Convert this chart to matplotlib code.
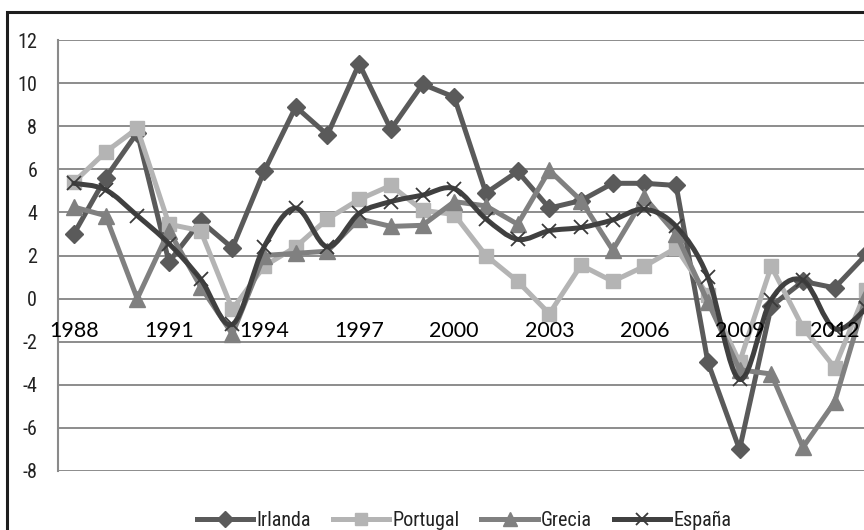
import numpy as np
import matplotlib
matplotlib.use('Agg')
import matplotlib.pyplot as plt
from matplotlib.path import Path
from matplotlib.patches import PathPatch, Rectangle
from matplotlib.lines import Line2D
from matplotlib import font_manager as fm

years = list(range(1988, 2014))
irlanda = [3.0, 5.6, 7.7, 1.7, 3.6, 2.35, 5.9, 8.9, 7.6, 10.9, 7.85, 9.95, 9.35, 4.9,
           5.9, 4.2, 4.55, 5.35, 5.35, 5.25, -2.95, -7.0, -0.35, 0.8, 0.5, 2.05]
portugal = [5.4, 6.8, 7.9, 3.45, 3.15, -0.5, 1.5, 2.4, 3.7, 4.6, 5.25, 4.1, 3.9, 2.0,
            0.8, -0.7, 1.55, 0.8, 1.5, 2.35, 0.15, -2.95, 1.5, -1.35, -3.2, 0.4]
grecia = [4.25, 3.85, 0.0, 3.15, 0.55, -1.65, 2.0, 2.1, 2.2, 3.7, 3.35, 3.4, 4.5, 4.3,
          3.45, 5.95, 4.55, 2.25, 4.7, 3.0, -0.15, -3.3, -3.5, -6.9, -4.8, 0.15]
espana = [5.35, 5.05, 3.85, 2.55, 0.9, -1.2, 2.4, 4.2, 2.4, 3.95, 4.5, 4.8, 5.1, 3.7,
          2.75, 3.15, 3.3, 3.65, 4.15, 3.35, 1.0, -3.75, -0.05, 0.85, -1.4, -0.45]
series_names = ['Irlanda', 'Portugal', 'Grecia', 'España']
y_ticks = list(range(-8, 13, 2))
x_label_step = 3

available = {f.name for f in fm.fontManager.ttflist}
def pick(cands, default='DejaVu Sans'):
    for c in cands:
        if c in available:
            return c
    return default

cond_font = pick(['Liberation Sans Narrow', 'Roboto Condensed', 'Open Sans Condensed',
                  'Noto Sans Condensed', 'Liberation Sans'])
year_font = pick(['Lato', 'Open Sans', 'Liberation Sans'])

W, H = 864, 530
fig = plt.figure(figsize=(W / 100, H / 100), dpi=100)
fig.patch.set_facecolor('white')

# outer chart border (extends beyond right/bottom edges)
fig.patches.append(Rectangle((7 / W, -0.2), 1.2, (1 - 12 / H) + 0.2,
                             transform=fig.transFigure, fill=False,
                             edgecolor='#1e1e1e', linewidth=2.2, zorder=0))

n = len(years)
left_px, right_px = 58, 58 + 27 * 31.7
top_px, bot_px = 40, 471
ax = fig.add_axes([left_px / W, 1 - bot_px / H, (right_px - left_px) / W, (bot_px - top_px) / H])
ax.set_facecolor('none')
x = np.arange(n)
ax.set_xlim(-0.5, 26.5)
ax.set_ylim(-8, 12)

for s in ['top', 'right', 'bottom']:
    ax.spines[s].set_visible(False)
ax.spines['left'].set_color('#8a8a8a')
ax.spines['left'].set_linewidth(1.5)

ax.set_yticks(y_ticks)
ax.set_yticklabels([str(v) for v in y_ticks], fontfamily=cond_font, fontsize=14.5, color='#222222')
ax.tick_params(axis='y', length=0, pad=15)
ax.yaxis.grid(True, color='#8c8c8c', linewidth=1.4)
ax.set_axisbelow(True)
ax.set_xticks([])

# category labels drawn on top of the lines, just under the zero line
for i in range(0, n, x_label_step):
    ax.annotate(str(years[i]), xy=(x[i], 0), xytext=(0, -16), textcoords='offset points',
                ha='center', va='top', fontfamily=year_font, fontsize=15.5,
                color='black', zorder=10, annotation_clip=False)


def smooth_path(xs, ys):
    pts = np.column_stack([xs, ys]).astype(float)
    verts = [pts[0]]
    codes = [Path.MOVETO]
    m = len(pts)
    for i in range(m - 1):
        p0 = pts[i - 1] if i > 0 else pts[i]
        p1 = pts[i]
        p2 = pts[i + 1]
        p3 = pts[i + 2] if i + 2 < m else pts[i + 1]
        c1 = p1 + (p2 - p0) / 6.0
        c2 = p2 - (p3 - p1) / 6.0
        verts += [c1, c2, p2]
        codes += [Path.CURVE4] * 3
    return Path(verts, codes)

lw = 3.6
styles = [
    dict(color='#5a5a5a', marker='D', ms=9, mfc='#5a5a5a', mec='#5a5a5a'),
    dict(color='#b4b4b4', marker='s', ms=10, mfc='#b4b4b4', mec='#b4b4b4'),
    dict(color='#808080', marker='^', ms=11, mfc='#808080', mec='#808080'),
    dict(color='#404040', marker='x', ms=10, mfc='#404040', mec='#3a3a3a'),
]
data = [irlanda, portugal, grecia, espana]
handles = []
for name, vals, st in zip(series_names, data, styles):
    if name == 'España':
        pp = PathPatch(smooth_path(x, vals), facecolor='none', edgecolor=st['color'],
                       linewidth=lw, transform=ax.transData, zorder=3, capstyle='round')
        ax.add_patch(pp)
        ax.plot(x, vals, linestyle='none', marker='x', ms=st['ms'], mew=1.3,
                color=st['mec'], zorder=3, clip_on=False)
    else:
        ax.plot(x, vals, color=st['color'], linewidth=lw, marker=st['marker'],
                ms=st['ms'], mfc=st['mfc'], mec=st['mec'], zorder=3, clip_on=False,
                solid_joinstyle='round')
    mew = 1.3 if name == 'España' else 1
    handles.append(Line2D([], [], color=st['color'], linewidth=lw, marker=st['marker'],
                          ms=st['ms'] * 0.9, mfc=st['mfc'], mec=st['mec'], mew=mew, label=name))

leg = fig.legend(handles=handles, loc='center', bbox_to_anchor=(464 / W, 1 - 520 / H),
                 ncol=4, frameon=False, handlelength=2.8, handletextpad=0.15,
                 columnspacing=1.1, prop={'family': cond_font, 'size': 14.5})
for t in leg.get_texts():
    t.set_color('#222222')

fig.savefig('out.png', dpi=100)
